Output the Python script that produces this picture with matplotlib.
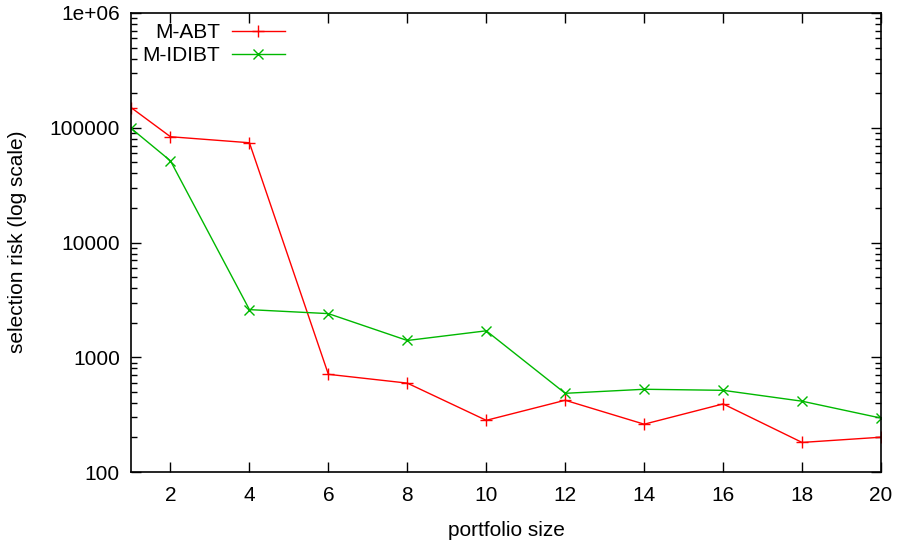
import matplotlib.pyplot as plt
from matplotlib.ticker import FixedLocator, LogLocator, NullFormatter

plt.rcParams['font.family'] = ['Liberation Sans', 'DejaVu Sans']

portfolio_size = [1, 2, 4, 6, 8, 10, 12, 14, 16, 18, 20]
m_abt = [150000, 83500, 74000, 710, 595, 282, 422, 261, 392, 181, 201]
m_idibt = [99000, 51500, 2600, 2400, 1400, 1700, 485, 526, 515, 414, 295]

x_ticks = [2, 4, 6, 8, 10, 12, 14, 16, 18, 20]
y_ticks = [100, 1000, 10000, 100000, 1000000]
y_labels = ['100', '1000', '10000', '100000', '1e+06']

W, H = 902, 544
fig = plt.figure(figsize=(W / 100, H / 100), dpi=100)
ax = fig.add_axes([131 / W, (H - 472) / H, 750 / W, 459 / H])

ax.plot(portfolio_size, m_abt, color='#ff0000', marker='+', markersize=9,
        markeredgewidth=1, linewidth=1, label='M-ABT')
ax.plot(portfolio_size, m_idibt, color='#00b800', marker='x', markersize=7,
        markeredgewidth=1, linewidth=1, label='M-IDIBT')

ax.set_yscale('log')
ax.set_xlim(1, 20)
ax.set_ylim(100, 1000000)
ax.xaxis.set_major_locator(FixedLocator(x_ticks))
ax.set_yticks(y_ticks)
ax.set_yticklabels(y_labels)
ax.yaxis.set_minor_locator(LogLocator(base=10, subs=range(2, 10)))
ax.yaxis.set_minor_formatter(NullFormatter())

ax.tick_params(which='both', direction='in', top=True, right=True, labelsize=15)
ax.tick_params(which='major', length=7, width=1)
ax.tick_params(which='minor', length=4, width=1)
ax.tick_params(axis='x', pad=10)
ax.tick_params(axis='y', pad=8)
for s in ax.spines.values():
    s.set_linewidth(1.2)

# axis titles placed like gnuplot does
fig.text(506 / W, 1 - 530 / H, 'portfolio size', fontsize=15,
         ha='center', va='center')
fig.text(18 / W, 1 - 242 / H, 'selection risk (log scale)', fontsize=15,
         ha='center', va='center', rotation=90)

ax.legend(loc='upper right', frameon=False, markerfirst=False, fontsize=15,
          handlelength=2.55, handletextpad=0.58, borderpad=0, borderaxespad=0,
          labelspacing=0.2, bbox_to_anchor=(285 / W, 1 - 23 / H),
          bbox_transform=fig.transFigure)

fig.savefig('out.png', dpi=100)
